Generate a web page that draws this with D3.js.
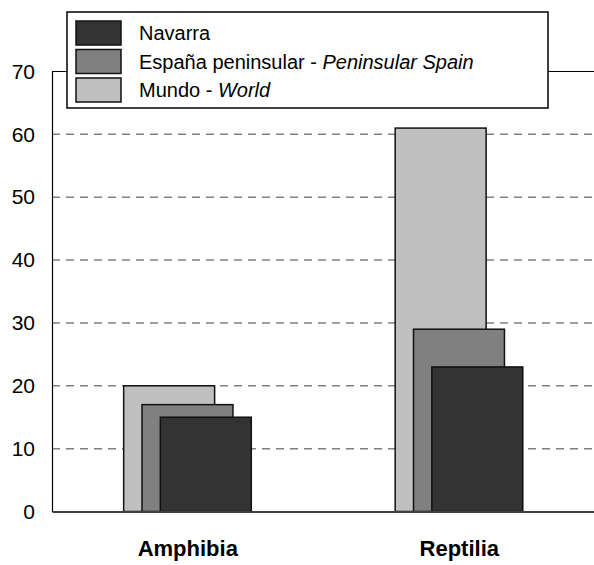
<!DOCTYPE html>
<html>
<head>
<meta charset="utf-8">
<script src="https://cdn.jsdelivr.net/npm/d3@7"></script>
<style>
  html, body { margin: 0; padding: 0; background: #fff; }
  svg { display: block; font-family: "Liberation Sans", Arial, sans-serif; }
</style>
</head>
<body>
<svg id="chart" width="594" height="565"></svg>
<script>
// ---- data ----
const categories = ["Amphibia", "Reptilia"];
const seriesNames = ["Mundo", "España peninsular", "Navarra"]; // back to front
const mundo = [20, 61];
const espana = [17, 29];
const navarra = [15, 23];
const yTicks = [0, 10, 20, 30, 40, 50, 60, 70];
const legendItems = [
  { key: "Navarra", main: "Navarra", it: "" },
  { key: "España peninsular", main: "España peninsular - ", it: "Peninsular Spain" },
  { key: "Mundo", main: "Mundo - ", it: "World" }
];

const seriesValues = { "Mundo": mundo, "España peninsular": espana, "Navarra": navarra };
const colors = { "Mundo": "#c0c0c0", "España peninsular": "#808080", "Navarra": "#333333" };

const svg = d3.select("#chart");
const mLeft = 52, mRight = 595, mTop = 71.5, mBottom = 511.5;

const x = d3.scaleBand().domain(categories).range([mLeft, mRight]).padding(0);
const y = d3.scaleLinear().domain([0, 70]).range([mBottom, mTop]);

// inner offsets for overlapping bars
const bw = x.bandwidth();
const barW = bw * 0.335;
const x1 = d3.scaleBand().domain(seriesNames)
  .range([bw / 2 - bw * 0.236, bw / 2 - bw * 0.236 + bw * 0.2025]).padding(0);

// gridlines
svg.append("g")
  .selectAll("line")
  .data(yTicks.filter(t => t > 0 && t < 70))
  .join("line")
  .attr("x1", mLeft).attr("x2", mRight)
  .attr("y1", d => y(d)).attr("y2", d => y(d))
  .attr("stroke", "#808080")
  .attr("stroke-width", 1.5)
  .attr("stroke-dasharray", "8,6");

// top border line at 70
svg.append("line")
  .attr("x1", mLeft).attr("x2", mRight)
  .attr("y1", y(70)).attr("y2", y(70))
  .attr("stroke", "#000").attr("stroke-width", 1);

// bars
seriesNames.forEach(s => {
  svg.append("g")
    .selectAll("rect")
    .data(categories.map((c, i) => ({ c, v: seriesValues[s][i] })))
    .join("rect")
    .attr("x", d => x(d.c) + x1(s))
    .attr("width", barW)
    .attr("y", d => y(d.v))
    .attr("height", d => y(0) - y(d.v))
    .attr("fill", colors[s])
    .attr("stroke", "#111")
    .attr("stroke-width", 1.5);
});

// left axis
const yAxis = d3.axisLeft(y).tickValues(yTicks).tickSize(0).tickPadding(17);
const gy = svg.append("g").attr("transform", `translate(${mLeft},0)`).call(yAxis);
gy.select(".domain").attr("stroke", "#000").attr("stroke-width", 1.2);
gy.selectAll("text").attr("font-size", 21).attr("fill", "#000")
  .attr("font-family", "Liberation Sans, Arial, sans-serif");

// bottom axis
const xAxis = d3.axisBottom(x).tickSize(0).tickPadding(29);
const gx = svg.append("g").attr("transform", `translate(0,${mBottom})`).call(xAxis);
gx.select(".domain").attr("stroke", "#404040").attr("stroke-width", 2.2);
gx.selectAll("text").attr("font-size", 22).attr("font-weight", "bold").attr("fill", "#000")
  .attr("font-family", "Liberation Sans, Arial, sans-serif");

// legend
const lg = svg.append("g");
lg.append("rect").attr("x", 67).attr("y", 12).attr("width", 481).attr("height", 96)
  .attr("fill", "#fff").attr("stroke", "#000").attr("stroke-width", 1.5);
const rows = lg.selectAll("g.row").data(legendItems).join("g")
  .attr("class", "row")
  .attr("transform", (d, i) => `translate(76,${21 + i * 28.5})`);
rows.append("rect").attr("width", 45).attr("height", 24)
  .attr("fill", d => colors[d.key]).attr("stroke", "#111").attr("stroke-width", 1.5);
const txt = rows.append("text").attr("x", 63).attr("y", 12).attr("dy", "0.36em")
  .attr("font-size", 20).attr("fill", "#000");
txt.append("tspan").text(d => d.main);
txt.append("tspan").attr("font-style", "italic").text(d => d.it);
</script>
</body>
</html>
